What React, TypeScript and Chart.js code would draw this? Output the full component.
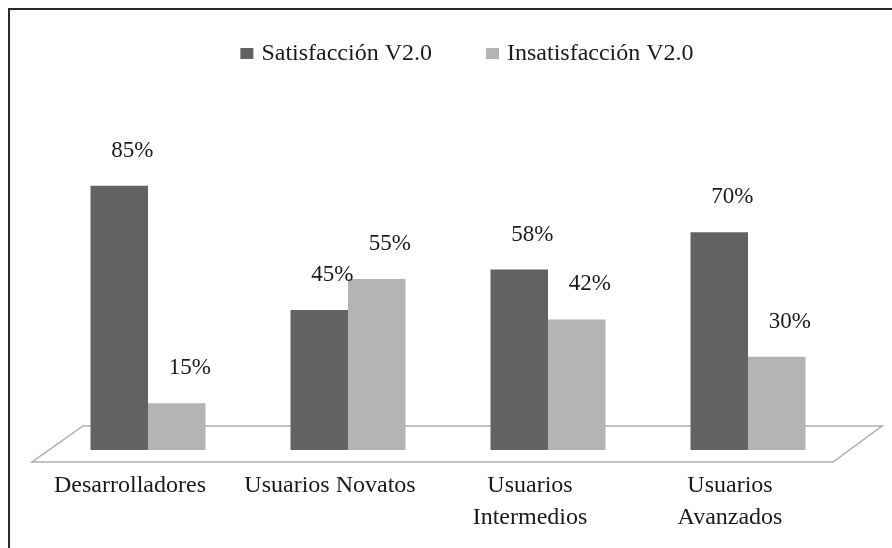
import { useEffect, useRef } from 'react';
import { Chart, registerables } from 'chart.js';

Chart.register(...registerables);

// ---- data ----
const categories: (string | string[])[] = [
  'Desarrolladores',
  'Usuarios Novatos',
  ['Usuarios', 'Intermedios'],
  ['Usuarios', 'Avanzados'],
];
const seriesNames = ['Satisfacción V2.0', 'Insatisfacción V2.0'];
const satisfaccion = [85, 45, 58, 70];
const insatisfaccion = [15, 55, 42, 30];
const yMin = 0;
const yMax = 100;

// ---- styles ----
const FONT = '"Liberation Serif", "Times New Roman", serif';
const TEXT = '#1a1a1a';
const DARK = '#626262';
const LIGHT = '#b4b4b4';

const framePlugin = {
  id: 'frame',
  beforeDraw(chart: any) {
    const { ctx, width, height } = chart;
    ctx.save();
    ctx.fillStyle = '#ffffff';
    ctx.fillRect(0, 0, width, height);
    ctx.strokeStyle = '#2a2a2a';
    ctx.lineWidth = 2;
    ctx.strokeRect(9, 9, width + 20, height + 20);
    ctx.restore();
  },
};

const floorPlugin = {
  id: 'floor',
  beforeDatasetsDraw(chart: any) {
    const { ctx, chartArea } = chart;
    const { left, right, bottom } = chartArea;
    const backY = bottom - 24;
    const frontY = bottom + 12;
    ctx.save();
    ctx.strokeStyle = '#aeaeae';
    ctx.lineWidth = 1.5;
    ctx.beginPath();
    ctx.moveTo(left + 35, backY);
    ctx.lineTo(right + 34, backY);
    ctx.lineTo(right - 15, frontY);
    ctx.lineTo(left - 16, frontY);
    ctx.closePath();
    ctx.stroke();
    ctx.restore();
  },
};

const valueLabelPlugin = {
  id: 'valueLabels',
  afterDatasetsDraw(chart: any) {
    const { ctx } = chart;
    ctx.save();
    ctx.font = `23px ${FONT}`;
    ctx.fillStyle = TEXT;
    ctx.textAlign = 'center';
    ctx.textBaseline = 'middle';
    chart.data.datasets.forEach((ds: any, di: number) => {
      const meta = chart.getDatasetMeta(di);
      meta.data.forEach((el: any, i: number) => {
        ctx.fillText(`${ds.data[i]}%`, el.x + 13, el.y - 35);
      });
    });
    ctx.restore();
  },
};

const legendPlugin = {
  id: 'customLegend',
  afterDraw(chart: any) {
    const { ctx } = chart;
    const datasets = chart.data.datasets;
    const box = 13;
    const boxH = 11;
    const gapText = 8;
    const gapItem = 54;
    const centerX = 467;
    const midY = 54;
    ctx.save();
    ctx.font = `24px ${FONT}`;
    ctx.textBaseline = 'middle';
    ctx.textAlign = 'left';
    const widths = datasets.map((d: any) => ctx.measureText(d.label).width);
    const total =
      widths.reduce((a: number, w: number) => a + box + gapText + w, 0) +
      gapItem * (datasets.length - 1);
    let x = centerX - total / 2;
    datasets.forEach((d: any, i: number) => {
      ctx.fillStyle = d.backgroundColor;
      ctx.fillRect(x, midY - boxH / 2 - 0.5, box, boxH);
      x += box + gapText;
      ctx.fillStyle = TEXT;
      ctx.fillText(d.label, x, midY);
      x += widths[i] + gapItem;
    });
    ctx.restore();
  },
};

export default function App() {
  const canvasRef = useRef<HTMLCanvasElement | null>(null);

  useEffect(() => {
    if (!canvasRef.current) return;
    const chart = new Chart(canvasRef.current, {
      type: 'bar',
      data: {
        labels: categories as any,
        datasets: [
          {
            label: seriesNames[0],
            data: satisfaccion,
            backgroundColor: DARK,
            borderWidth: 0,
            categoryPercentage: 0.575,
            barPercentage: 1,
          },
          {
            label: seriesNames[1],
            data: insatisfaccion,
            backgroundColor: LIGHT,
            borderWidth: 0,
            categoryPercentage: 0.575,
            barPercentage: 1,
          },
        ],
      },
      options: {
        animation: false,
        responsive: false,
        maintainAspectRatio: false,
        layout: { padding: { top: 139, left: 48, right: 44, bottom: 0 } },
        plugins: {
          legend: { display: false },
          tooltip: { enabled: false },
          title: { display: false },
        },
        scales: {
          x: {
            grid: { display: false, drawTicks: false },
            border: { display: false },
            ticks: {
              color: TEXT,
              font: { family: FONT, size: 24, lineHeight: 1.32 },
              padding: 20,
              labelOffset: -18,
              maxRotation: 0,
              autoSkip: false,
            },
            afterFit: (scale: any) => {
              scale.height = 98;
            },
          },
          y: {
            display: false,
            min: yMin,
            max: yMax,
          },
        },
      },
      plugins: [framePlugin, floorPlugin, valueLabelPlugin, legendPlugin],
    });
    return () => chart.destroy();
  }, []);

  return (
    <div style={{ position: 'absolute', left: 0, top: 0, width: 892, height: 548, background: '#fff' }}>
      <canvas ref={canvasRef} width={892} height={548} style={{ display: 'block', width: 892, height: 548 }} />
    </div>
  );
}
